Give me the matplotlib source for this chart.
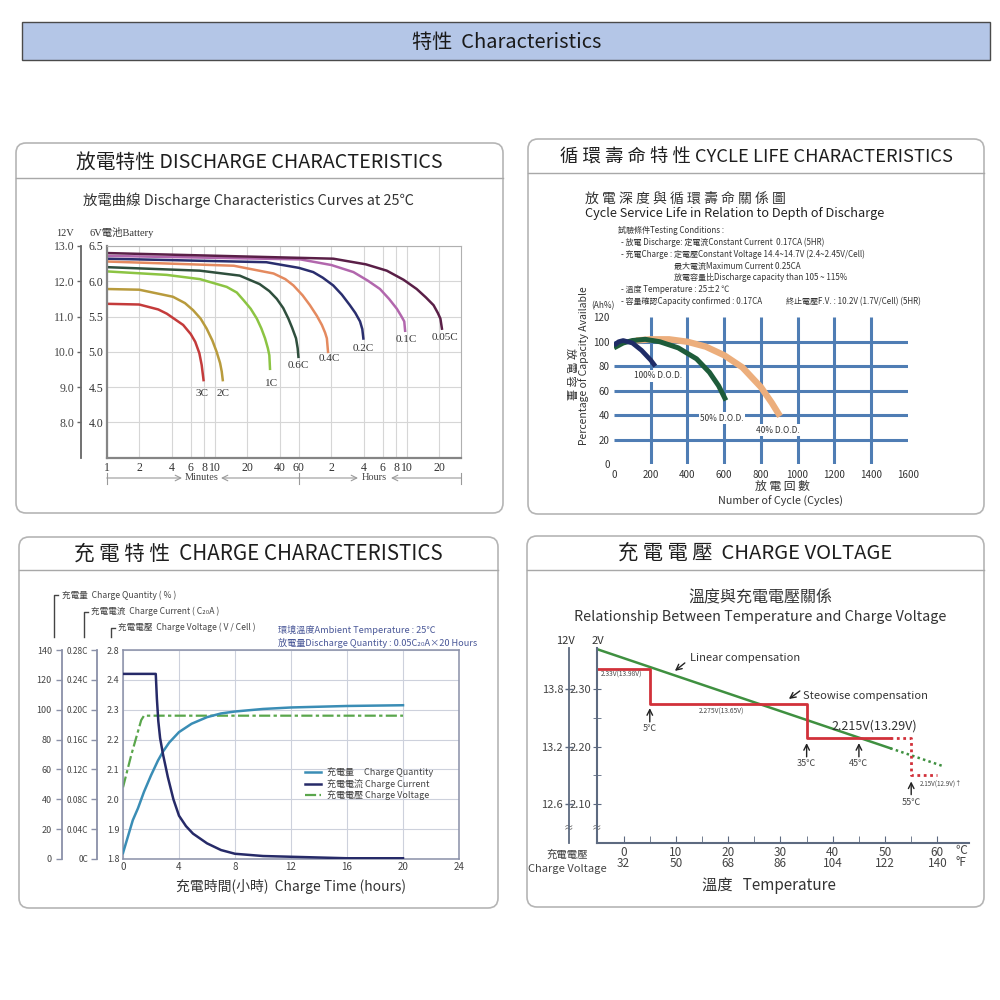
import matplotlib
matplotlib.use('Agg')
import matplotlib.pyplot as plt
from matplotlib.patches import FancyBboxPatch, Rectangle
from matplotlib.ticker import NullLocator

plt.rcParams['font.family'] = ['Noto Sans CJK TC', 'DejaVu Sans']
SERIF = ['Liberation Serif', 'Noto Sans CJK TC']

# ---- discharge curves (minutes, volts of a 6V battery) ----
rates = ['3C', '2C', '1C', '0.6C', '0.4C', '0.2C', '0.1C', '0.05C']
t_3c = [1, 2, 3, 3.6, 5.1, 6.0, 6.6, 7.2, 7.57, 7.9]
v_3c = [5.68, 5.67, 5.6, 5.54, 5.38, 5.25, 5.14, 4.98, 4.81, 4.58]
t_2c = [1, 2, 4.1, 5.3, 6.3, 7.4, 8.4, 9.5, 10.4, 11.2, 11.6, 11.9]
v_2c = [5.89, 5.88, 5.78, 5.69, 5.59, 5.47, 5.33, 5.16, 5.0, 4.84, 4.72, 4.58]
t_1c = [1, 3.6, 7.3, 12.9, 16, 18.5, 21.5, 24.5, 27, 29.2, 31, 32, 32.5]
v_1c = [6.14, 6.09, 6.03, 5.92, 5.84, 5.73, 5.61, 5.47, 5.33, 5.19, 5.05, 4.95, 4.74]
t_06c = [1, 7.3, 17, 26, 32, 37.5, 43, 48, 52, 56.5, 58.5, 59.6]
v_06c = [6.20, 6.15, 6.08, 5.96, 5.86, 5.75, 5.62, 5.47, 5.34, 5.19, 5.05, 4.91]
t_04c = [1, 15, 35, 45, 53.5, 65, 76, 88, 98, 105, 109, 112]
v_04c = [6.28, 6.22, 6.11, 6.03, 5.94, 5.8, 5.66, 5.51, 5.38, 5.27, 5.19, 4.98]
t_02c = [1, 30, 60, 81.5, 100, 125, 150, 178, 200, 221, 232, 238]
v_02c = [6.32, 6.27, 6.19, 6.13, 6.05, 5.94, 5.81, 5.66, 5.55, 5.43, 5.32, 5.17]
t_01c = [1, 62, 120, 192, 260, 338, 410, 484, 530, 567, 579]
v_01c = [6.36, 6.31, 6.23, 6.13, 6.01, 5.89, 5.75, 5.61, 5.51, 5.43, 5.28]
t_005c = [1, 125, 250, 391, 560, 739, 900, 1059, 1160, 1225, 1271]
v_005c = [6.40, 6.32, 6.24, 6.15, 6.02, 5.89, 5.77, 5.66, 5.55, 5.47, 5.31]
minute_ticks = [1, 2, 4, 6, 8, 10, 20, 40, 60, 120, 240, 360, 480, 600, 1200]
minute_tick_labels = ['1', '2', '4', '6', '8', '10', '20', '40', '60',
                      '2', '4', '6', '8', '10', '20']
volt6_ticks = [4.0, 4.5, 5.0, 5.5, 6.0, 6.5]
volt12_ticks = [8.0, 9.0, 10.0, 11.0, 12.0, 13.0]

# ---- cycle life (cycles, capacity %) ----
cyc_100_n = [0, 25, 50, 100, 150, 200, 225]
cyc_100_cap = [97, 100, 101, 99, 93, 85, 80]
cyc_50_n = [0, 50, 100, 170, 250, 350, 450, 520, 570, 610]
cyc_50_cap = [95, 99, 101, 102, 100, 95, 86, 75, 64, 52]
cyc_40_n = [120, 200, 300, 400, 500, 600, 700, 800, 860, 905]
cyc_40_cap = [101, 102, 102, 100, 96, 89, 79, 63, 50, 39]
cyc_xticks = [0, 200, 400, 600, 800, 1000, 1200, 1400, 1600]
cyc_yticks = [0, 20, 40, 60, 80, 100, 120]

# ---- charge characteristics (hours) ----
q_hours = [0, 0.35, 0.7, 1.07, 1.5, 2.0, 2.5, 2.86, 3.3, 4, 4.9, 6, 7, 8, 10, 12, 16, 20]
q_pct = [4, 15, 26, 34, 45, 56, 66, 72, 78, 85, 90.6, 95, 97.5, 98.8, 100.5, 101.5, 102.5, 103]
i_hours = [0, 2.34, 2.42, 2.52, 2.65, 2.86, 3.2, 3.6, 4.0, 4.5, 5, 6, 7, 8, 10, 12, 16, 20]
i_ca = [0.248, 0.248, 0.215, 0.185, 0.162, 0.140, 0.11, 0.08, 0.058, 0.044, 0.034, 0.021,
        0.012, 0.007, 0.004, 0.003, 0.001, 0.001]
v_hours = [0, 0.6, 1.3, 1.5, 20]
v_cell = [2.04, 2.15, 2.265, 2.28, 2.28]
q_ticks = [0, 20, 40, 60, 80, 100, 120, 140]
i_ticks = [0, 0.04, 0.08, 0.12, 0.16, 0.20, 0.24, 0.28]
i_tick_labels = ['0C', '0.04C', '0.08C', '0.12C', '0.16C', '0.20C', '0.24C', '0.28C']
v_ticks = [1.8, 1.9, 2.0, 2.1, 2.2, 2.3, 2.4, 2.5]
v_tick_labels = ['1.8', '1.9', '2.0', '2.1', '2.2', '2.3', '2.4', '2.8']
hour_ticks = [0, 4, 8, 12, 16, 20, 24]

# ---- charge voltage vs temperature (deg C, V/cell) ----
lin_temp = [-5.1, 51]
lin_volt = [2.37, 2.197]
lin_temp_dot = [51, 61]
lin_volt_dot = [2.197, 2.166]
step_temp = [-5.1, 5, 5, 35, 35, 51]
step_volt = [2.335, 2.335, 2.275, 2.275, 2.215, 2.215]
step_temp_dot = [51, 55, 55, 60]
step_volt_dot = [2.215, 2.215, 2.15, 2.15]
temp_c = [0, 10, 20, 30, 40, 50, 60]
temp_f = [32, 50, 68, 86, 104, 122, 140]

fig = plt.figure(figsize=(10, 10), dpi=100)
ov = fig.add_axes([0, 0, 1, 1])
ov.set_xlim(0, 1000)
ov.set_ylim(1000, 0)
ov.axis('off')


def px_axes(x0, y0, x1, y1):
    a = fig.add_axes([x0 / 1000, 1 - y1 / 1000, (x1 - x0) / 1000, (y1 - y0) / 1000])
    a.set_facecolor('none')
    return a


def scale_axis(x, y0, y1, lim, ticks, labels, color, size, pad, family=None, direction='out', length=3):
    a = px_axes(x, y0, x + 0.5, y1)
    a.set_ylim(*lim)
    a.set_yticks(ticks)
    a.set_yticklabels(labels, fontsize=size, color='#444', family=family)
    a.tick_params(axis='y', direction=direction, length=length, pad=pad, color=color, width=1)
    a.set_xticks([])
    for s in ['top', 'right', 'bottom']:
        a.spines[s].set_visible(False)
    a.spines['left'].set_color(color)
    a.spines['left'].set_linewidth(1.3)
    return a


# banner
ov.add_patch(Rectangle((22, 22), 968, 38, facecolor='#b4c6e7', edgecolor='#4a4a4a', lw=1))
ov.text(507, 42, '特性  Characteristics', ha='center', va='center', fontsize=14.5, color='#1a1a1a')

panels = [
    (16, 143, 503, 513, 178, 162, '放電特性 DISCHARGE CHARACTERISTICS', 14.2),
    (528, 139, 984, 514, 173, 158, '循 環 壽 命 特 性 CYCLE LIFE CHARACTERISTICS', 13.2),
    (19, 537, 498, 908, 570, 554, '充 電 特 性  CHARGE CHARACTERISTICS', 14.8),
    (527, 536, 984, 907, 570, 553, '充 電 電 壓  CHARGE VOLTAGE', 14.6),
]
for x0, y0, x1, y1, sep, ty, title, fs in panels:
    ov.add_patch(FancyBboxPatch((x0, y0), x1 - x0, y1 - y0,
                                boxstyle='round,pad=0,rounding_size=10',
                                facecolor='white', edgecolor='#b5b5b5', lw=1.2))
    ov.plot([x0, x1], [sep, sep], color='#a8a8a8', lw=1)
    ov.text((x0 + x1) / 2, ty, title, ha='center', va='center', fontsize=fs, color='#1e1e1e')

# ================= discharge =================
ov.text(248, 200, '放電曲線 Discharge Characteristics Curves at 25℃', ha='center', va='center',
        fontsize=10.4, color='#333')
ax1 = px_axes(106.7, 246, 461, 457.5)
ax1.set_xscale('log')
ax1.set_xlim(1, 1900)
ax1.set_ylim(3.5, 6.5)
ax1.set_xticks(minute_ticks)
ax1.set_xticklabels(minute_tick_labels, family=SERIF, fontsize=8.5, color='#333')
ax1.xaxis.set_minor_locator(NullLocator())
ax1.set_yticks(volt6_ticks)
ax1.set_yticklabels(['%.1f' % v for v in volt6_ticks], family=SERIF, fontsize=8.5, color='#333')
ax1.tick_params(length=0)
ax1.tick_params(axis='x', pad=3.5)
ax1.tick_params(axis='y', pad=2.5)
ax1.grid(True, color='#d6d6d6', lw=0.8)
for s in ['top', 'right']:
    ax1.spines[s].set_color('#b0b0b0')
for s in ['left', 'bottom']:
    ax1.spines[s].set_color('#858585')
    ax1.spines[s].set_linewidth(1.6)

rate_colors = ['#c43b3b', '#b89b3d', '#8cc443', '#2f4f3d', '#e48a5f', '#2a2e6e', '#b267ad', '#5a1f47']
label_dx = [-2, 0, 1, 0, 1, 0, 1, 3]
label_dy = [8, 8, 9, 3, 1, 4, 3, 3]
curves = [(t_3c, v_3c), (t_2c, v_2c), (t_1c, v_1c), (t_06c, v_06c), (t_04c, v_04c),
          (t_02c, v_02c), (t_01c, v_01c), (t_005c, v_005c)]
for (tt, vv), name, col, dx, dy in zip(curves, rates, rate_colors, label_dx, label_dy):
    ax1.plot(tt, vv, color=col, lw=1.8, solid_capstyle='butt')
    ax1.annotate(name, xy=(tt[-1], vv[-1]), xytext=(dx, -dy), textcoords='offset pixels',
                 ha='center', va='top', family=SERIF, fontsize=8, color='#333')

scale_axis(80.7, 246, 457.5, (7.0, 13.0), volt12_ticks, ['%.1f' % v for v in volt12_ticks],
           '#666', 8.5, 1.5, family=SERIF, length=3)
ov.text(65, 233, '12V', ha='center', va='center', family=SERIF, fontsize=7.5, color='#333')
ov.text(89, 233, '6V電池Battery', ha='left', va='center', family=SERIF, fontsize=7.5, color='#333')

# minutes / hours bar
for xb in [106.7, 299, 461]:
    ov.plot([xb, xb], [472.5, 483.5], color='#9a9a9a', lw=0.8)
arrow = dict(arrowstyle='->', color='#9a9a9a', lw=0.8, shrinkA=0, shrinkB=0)
ov.annotate('', xy=(182, 478), xytext=(106.7, 478), arrowprops=arrow)
ov.annotate('', xy=(221, 478), xytext=(299, 478), arrowprops=arrow)
ov.annotate('', xy=(358, 478), xytext=(299, 478), arrowprops=arrow)
ov.annotate('', xy=(391, 478), xytext=(461, 478), arrowprops=arrow)
ov.text(201.5, 478, 'Minutes', ha='center', va='center', family=SERIF, fontsize=7.5, color='#444')
ov.text(374.5, 478, 'Hours', ha='center', va='center', family=SERIF, fontsize=7.5, color='#444')

# ================= cycle life =================
ov.text(585, 199, '放 電 深 度 與 循 環 壽 命 關 係 圖', ha='left', va='center', fontsize=10, color='#333')
ov.text(585, 213, 'Cycle Service Life in Relation to Depth of Discharge', ha='left', va='center',
        fontsize=9.2, color='#222')
cond = [
    (618, 230, '試驗條件Testing Conditions :'),
    (621, 242, '- 放電 Discharge: 定電流Constant Current  0.17CA (5HR)'),
    (621, 254, '- 充電Charge : 定電壓Constant Voltage 14.4~14.7V (2.4~2.45V/Cell)'),
    (674, 266, '最大電流Maximum Current 0.25CA'),
    (674, 278, '放電容量比Discharge capacity than 105 ~ 115%'),
    (621, 290, '- 溫度 Temperature : 25±2 ℃'),
    (621, 301.5, '- 容量確認Capacity confirmed : 0.17CA'),
    (786, 301.5, '終止電壓F.V. : 10.2V (1.7V/Cell) (5HR)'),
]
for x, y, s in cond:
    ov.text(x, y, s, ha='left', va='center', fontsize=5.8, color='#333')
ov.text(603, 306, '(Ah%)', ha='center', va='center', fontsize=6, color='#333')

ax2 = px_axes(614, 317.3, 907.6, 464)
ax2.set_xlim(0, 1600)
ax2.set_ylim(0, 120)
ax2.set_xticks(cyc_xticks)
ax2.set_yticks(cyc_yticks)
ax2.tick_params(length=0, labelsize=7, labelcolor='#333')
ax2.tick_params(axis='x', pad=4)
ax2.tick_params(axis='y', pad=3)
for s in ax2.spines.values():
    s.set_visible(False)
ax2.hlines(cyc_yticks[1:-1], 0, 1600, color='#4f7db4', lw=2.2, zorder=1)
ax2.vlines(cyc_xticks[1:-1], 0, 120, color='#4f7db4', lw=2.2, zorder=1)
ax2.plot(cyc_40_n, cyc_40_cap, color='#ecae7c', lw=4.6, solid_capstyle='butt', zorder=2)
ax2.plot(cyc_50_n, cyc_50_cap, color='#1e5c3a', lw=3.6, solid_capstyle='butt', zorder=3)
ax2.plot(cyc_100_n, cyc_100_cap, color='#1f2c66', lw=3.4, solid_capstyle='butt', zorder=4)
dod = dict(ha='center', va='center', fontsize=6, color='#333', zorder=5,
           bbox=dict(facecolor='white', edgecolor='none', pad=1))
ax2.text(240, 72, '100% D.O.D.', **dod)
ax2.text(589, 37.6, '50% D.O.D.', **dod)
ax2.text(894, 27.8, '40% D.O.D.', **dod)
ov.text(584, 366, 'Percentage of Capacity Available', rotation=90, ha='center', va='center',
        fontsize=7.5, color='#333')
ov.text(570, 374, '放 電 容 量', rotation=270, ha='center', va='center', fontsize=8, color='#333')
ov.text(782, 486.5, '放 電 回 數', ha='center', va='center', fontsize=8.5, color='#333')
ov.text(781, 501, 'Number of Cycle (Cycles)', ha='center', va='center', fontsize=7.8, color='#333')

# ================= charge characteristics =================
ax3 = px_axes(123, 650, 459, 859)
ax3.set_xlim(0, 24)
ax3.set_ylim(1.8, 2.5)
ax3.set_xticks(hour_ticks)
ax3.set_yticks(v_ticks)
ax3.set_yticklabels(v_tick_labels, fontsize=6.5, color='#444')
ax3.tick_params(axis='x', length=0, pad=2.5, labelsize=7, labelcolor='#444')
ax3.tick_params(axis='y', length=0, pad=2.5)
ax3.grid(True, color='#cdd1dc', lw=0.8)
for s in ax3.spines.values():
    s.set_color('#8a90a8')
    s.set_linewidth(1.1)
axq = ax3.twinx()
axq.set_ylim(0, 140)
axq.axis('off')
axi = ax3.twinx()
axi.set_ylim(0, 0.28)
axi.axis('off')
lq, = axq.plot(q_hours, q_pct, color='#3a8db5', lw=1.8)
li, = axi.plot(i_hours, i_ca, color='#262a68', lw=1.8)
lv, = ax3.plot(v_hours, v_cell, color='#5aa64c', lw=1.6, dashes=(5, 1.5, 1.5, 1.5))
axi.legend([lq, li, lv], ['充電量     Charge Quantity', '充電電流 Charge Current', '充電電壓 Charge Voltage'],
           loc='upper left', bbox_to_anchor=(0.305, 1 - 767.5 / 1000), bbox_transform=fig.transFigure,
           frameon=False, fontsize=6.5, handlelength=1.8, handletextpad=0.6, labelspacing=0.15,
           borderpad=0, borderaxespad=0, labelcolor='#444')
scale_axis(62.3, 650, 859, (0, 140), q_ticks, [str(v) for v in q_ticks], '#8a90a8', 6.5, 3.5, length=4)
scale_axis(97.3, 650, 859, (0, 0.28), i_ticks, i_tick_labels, '#8a90a8', 6, 2.5, length=4)
brk = dict(color='#444', lw=1)
ov.plot([53.7, 53.7, 58], [637, 595, 595], **brk)
ov.plot([83.7, 83.7, 88], [637, 612, 612], **brk)
ov.plot([110.7, 110.7, 115], [637, 628, 628], **brk)
ov.text(62, 595, '充電量  Charge Quantity ( % )', ha='left', va='center', fontsize=6.2, color='#444')
ov.text(91, 611.5, '充電電流  Charge Current ( C₂₀A )', ha='left', va='center', fontsize=6.2, color='#444')
ov.text(118, 627.5, '充電電壓  Charge Voltage ( V / Cell )', ha='left', va='center', fontsize=6.2, color='#444')
ov.text(278, 630, '環境溫度Ambient Temperature : 25℃', ha='left', va='center', fontsize=6.6, color='#4a5898')
ov.text(278, 642.5, '放電量Discharge Quantity : 0.05C₂₀A×20 Hours', ha='left', va='center',
        fontsize=6.6, color='#4a5898')
ov.text(291, 886, '充電時間(小時)  Charge Time (hours)', ha='center', va='center', fontsize=10, color='#333')

# ================= charge voltage =================
ov.text(760, 598, '溫度與充電電壓關係', ha='center', va='center', fontsize=11.5, color='#333')
ov.text(760, 617.5, 'Relationship Between Temperature and Charge Voltage', ha='center', va='center',
        fontsize=10.3, color='#333')
ax4 = px_axes(597, 648, 968.7, 843.3)
ax4.set_xlim(-5.1, 66)
ax4.set_ylim(2.031, 2.372)
for s in ['top', 'right']:
    ax4.spines[s].set_visible(False)
for s in ['left', 'bottom']:
    ax4.spines[s].set_color('#5d6a80')
    ax4.spines[s].set_linewidth(1.5)
ax4.set_xticks(temp_c)
ax4.set_xticklabels(['%d\n%d' % (c, f) for c, f in zip(temp_c, temp_f)], fontsize=8.5, color='#444')
for lbl in ax4.get_xticklabels():
    lbl.set_linespacing(0.8)
ax4.set_xticks([5, 15, 25, 35, 45, 55], minor=True)
ax4.tick_params(axis='x', which='both', direction='in', length=5, color='#5d6a80', pad=2)
ax4.set_yticks([2.10, 2.20, 2.30])
ax4.set_yticklabels(['2.10', '2.20', '2.30'], fontsize=8, color='#444')
ax4.set_yticks([2.15, 2.25], minor=True)
ax4.tick_params(axis='y', which='both', direction='inout', length=6, color='#5d6a80', pad=1)
ax4.plot(lin_temp, lin_volt, color='#3f9040', lw=1.8)
ax4.plot(lin_temp_dot, lin_volt_dot, color='#3f9040', lw=1.8, ls=(0, (1, 1.3)))
ax4.plot(step_temp, step_volt, color='#d1313a', lw=2)
ax4.plot(step_temp_dot, step_volt_dot, color='#d1313a', lw=2, ls=(0, (1, 1.3)))

up = dict(arrowstyle='->', color='#222', lw=1, shrinkA=0, shrinkB=0)
for tc, tip, tail, ly in [(5, 2.267, 2.243, 2.231), (35, 2.206, 2.182, 2.170),
                          (45, 2.206, 2.182, 2.170), (55, 2.139, 2.116, 2.103)]:
    ax4.annotate('', xy=(tc, tip), xytext=(tc, tail), arrowprops=up)
    ax4.text(tc, ly, '%d℃' % tc, ha='center', va='center', fontsize=6.5, color='#444')
ax4.text(-4.3, 2.325, '2.33V(13.98V)', ha='left', va='center', fontsize=4.8, color='#444')
ax4.text(14.3, 2.261, '2.275V(13.65V)', ha='left', va='center', fontsize=4.8, color='#444')
ax4.text(39.8, 2.235, '2.215V(13.29V)', ha='left', va='center', fontsize=9, color='#333')
ax4.text(56.7, 2.133, '2.15V(12.9V)↑', ha='left', va='center', fontsize=4.5, color='#444')
ax4.text(12.7, 2.3546, 'Linear compensation', ha='left', va='center', fontsize=8, color='#333')
ax4.annotate('', xy=(9.8, 2.332), xytext=(11.7, 2.3459), arrowprops=up)
ax4.text(34.3, 2.2885, 'Steowise compensation', ha='left', va='center', fontsize=8, color='#333')
ax4.annotate('', xy=(31.6, 2.283), xytext=(33.7, 2.297), arrowprops=up)

scale_axis(568.7, 648, 843.3, (2.031 * 6, 2.372 * 6), [12.6, 13.2, 13.8], ['12.6', '13.2', '13.8'],
           '#5d6a80', 8, 1, direction='inout', length=6)
ov.text(565, 641, '12V', ha='center', va='center', fontsize=8, color='#333')
ov.text(598, 641, '2V', ha='center', va='center', fontsize=8, color='#333')
for xb in [568.7, 597]:
    ov.text(xb, 828, '≈', ha='center', va='center', fontsize=7, color='#666', zorder=10,
            bbox=dict(facecolor='white', edgecolor='none', pad=0.5))
ov.text(567, 855, '充電電壓', ha='center', va='center', fontsize=7.5, color='#444')
ov.text(567, 868.5, 'Charge Voltage', ha='center', va='center', fontsize=8, color='#444')
ov.text(961, 856.5, '℃\n°F', ha='center', va='center', fontsize=8.5, color='#444', linespacing=0.8)
ov.text(769, 886, '溫度   Temperature', ha='center', va='center', fontsize=11, color='#333')

fig.savefig('out.png', dpi=100)
